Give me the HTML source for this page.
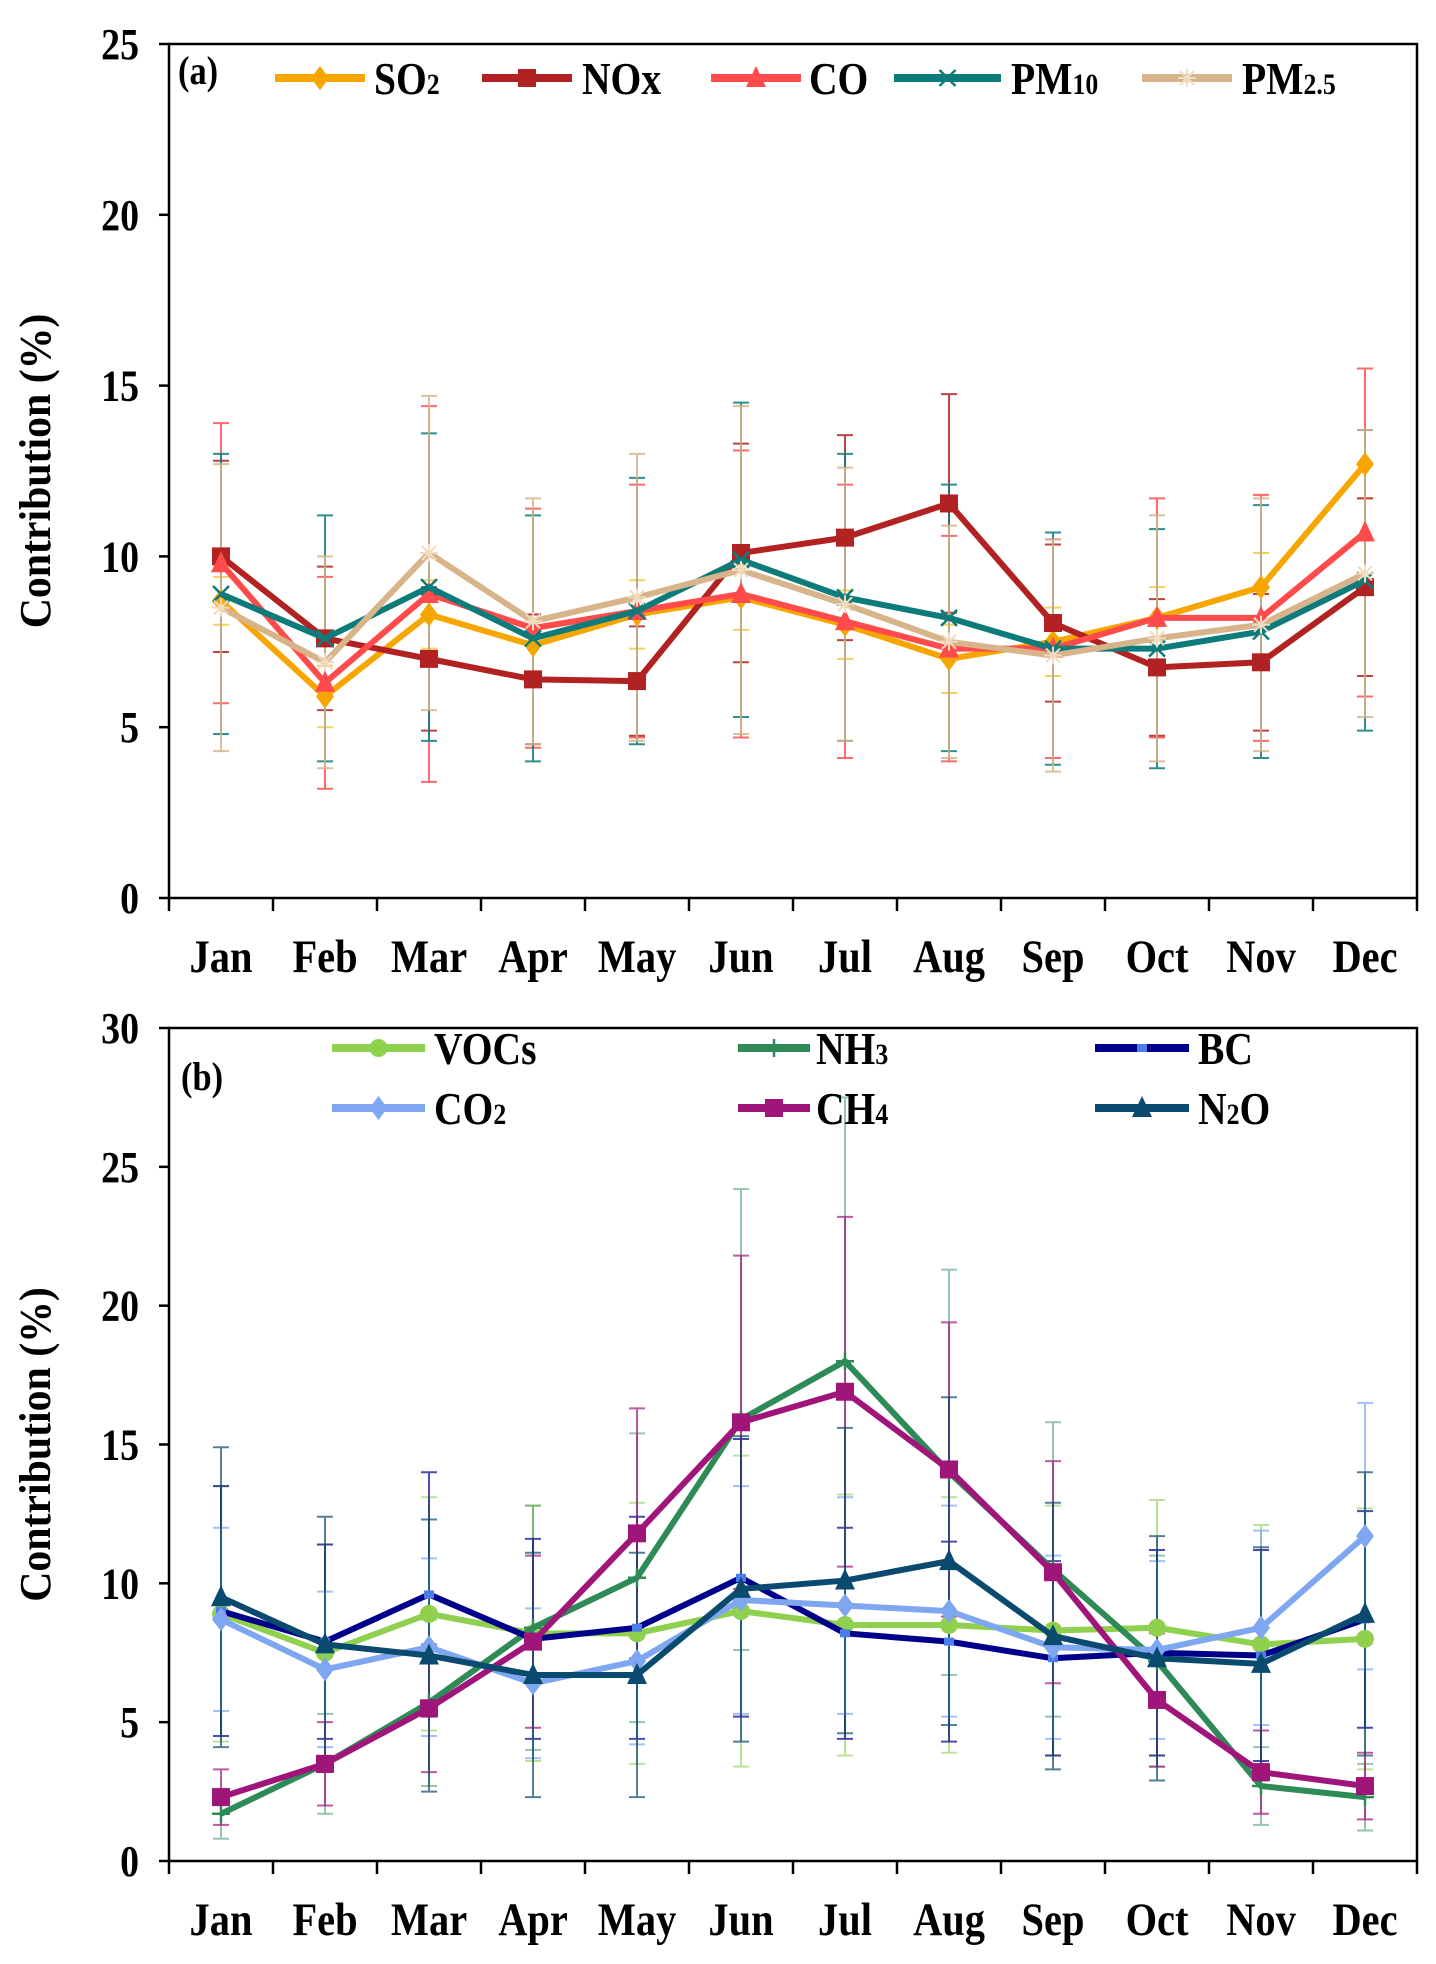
<!DOCTYPE html>
<html><head><meta charset="utf-8"><style>
html,body{margin:0;padding:0;background:#fff;}
svg{display:block;font-family:"Liberation Serif",serif;font-weight:bold;}
</style></head><body>
<svg id="chart" width="1436" height="1964" viewBox="0 0 1436 1964" xmlns="http://www.w3.org/2000/svg">
<rect width="1436" height="1964" fill="#fff"/>
</svg>
<script>
const months=["Jan","Feb","Mar","Apr","May","Jun","Jul","Aug","Sep","Oct","Nov","Dec"];
const ticksA=[0,5,10,15,20,25];
const ticksB=[0,5,10,15,20,25,30];
const so2=[8.7,5.9,8.3,7.4,8.3,8.8,8.0,7.0,7.5,8.2,9.1,12.7];
const so2Err=[0.7,0.9,1.0,0.9,1.0,0.95,1.0,1.0,1.0,0.9,1.0,1.0];
const nox=[10.0,7.6,7.0,6.4,6.35,10.1,10.55,11.55,8.05,6.75,6.9,9.1];
const noxErr=[2.8,2.1,2.1,1.9,1.6,3.2,3.0,3.2,2.3,2.0,2.0,2.6];
const co=[9.8,6.3,8.9,7.9,8.4,8.9,8.1,7.3,7.3,8.2,8.2,10.7];
const coErr=[4.1,3.1,5.5,3.5,3.7,4.2,4.0,3.3,3.2,3.5,3.6,4.8];
const pm10=[8.9,7.6,9.1,7.6,8.4,9.9,8.8,8.2,7.3,7.3,7.8,9.3];
const pm10Err=[4.1,3.6,4.5,3.6,3.9,4.6,4.2,3.9,3.4,3.5,3.7,4.4];
const pm25=[8.5,6.9,10.1,8.1,8.8,9.6,8.6,7.5,7.1,7.6,8.0,9.5];
const pm25Err=[4.2,3.1,4.6,3.6,4.2,4.8,4.0,3.4,3.4,3.6,3.7,4.2];
const vocs=[8.9,7.5,8.9,8.2,8.2,9.0,8.5,8.5,8.3,8.4,7.8,8.0];
const vocsErr=[4.6,3.9,4.2,4.6,4.7,5.6,4.7,4.6,4.5,4.6,4.3,4.7];
const nh3=[1.7,3.5,5.7,8.4,10.2,15.9,18.0,14.0,10.5,7.2,2.7,2.3];
const nh3Err=[0.9,1.8,3.0,4.4,5.2,8.3,9.5,7.3,5.3,3.8,1.4,1.2];
const bc=[9.0,7.9,9.6,8.0,8.4,10.2,8.2,7.9,7.3,7.5,7.4,8.7];
const bcErr=[4.5,3.5,4.4,3.6,4.0,5.0,3.8,3.6,3.5,3.7,3.8,3.9];
const co2=[8.7,6.9,7.7,6.4,7.2,9.4,9.2,9.0,7.7,7.6,8.4,11.7];
const co2Err=[3.3,2.8,3.2,2.7,3.0,4.1,3.9,3.8,3.3,3.2,3.5,4.8];
const ch4=[2.3,3.5,5.5,7.9,11.8,15.8,16.9,14.1,10.4,5.8,3.2,2.7];
const ch4Err=[1.0,1.5,2.3,3.1,4.5,6.0,6.3,5.3,4.0,2.4,1.5,1.2];
const n2o=[9.5,7.8,7.4,6.7,6.7,9.8,10.1,10.8,8.1,7.3,7.1,8.9];
const n2oErr=[5.4,4.6,4.9,4.4,4.4,5.5,5.5,5.9,4.8,4.4,4.2,5.1];

const NS="http://www.w3.org/2000/svg";
const svg=document.getElementById('chart');
function el(tag,attrs,parent){const e=document.createElementNS(NS,tag);for(const k in attrs)e.setAttribute(k,attrs[k]);(parent||svg).appendChild(e);return e;}

function marker(g,type,x,y,color){
  let m;
  const s=9;
  if(type==='diamond') m=el('polygon',{points:`${x},${y-s-3} ${x+s},${y} ${x},${y+s+3} ${x-s},${y}`,fill:color},g);
  else if(type==='square') m=el('rect',{x:x-s,y:y-s,width:2*s,height:2*s,fill:color},g);
  else if(type==='triangle') m=el('polygon',{points:`${x},${y-s-3} ${x+s+1},${y+s} ${x-s-1},${y+s}`,fill:color},g);
  else if(type==='circle') m=el('circle',{cx:x,cy:y,r:s,fill:color},g);
  else if(type==='smallsquare') m=el('rect',{x:x-5,y:y-4,width:10,height:8,fill:'#4a7ee8'},g);
  else if(type==='x'){m=el('path',{d:`M${x-8} ${y-8}L${x+8} ${y+8}M${x-8} ${y+8}L${x+8} ${y-8}`,stroke:color,'stroke-width':2.5,fill:'none'},g);}
  else if(type==='star'){m=el('path',{d:`M${x-9} ${y}L${x+9} ${y}M${x} ${y-9}L${x} ${y+9}M${x-7} ${y-7}L${x+7} ${y+7}M${x-7} ${y+7}L${x+7} ${y-7}`,stroke:'#f2dcc0','stroke-width':2,fill:'none'},g);}
  else if(type==='plus'){m=el('path',{d:`M${x-9} ${y}L${x+9} ${y}M${x} ${y-9}L${x} ${y+9}`,stroke:color,'stroke-width':2.5,fill:'none'},g);}
  
  
  return m;
}
function stext(g,x,y,size,anchor,str){
  const t=el('text',{transform:`translate(${x},${y}) scale(0.86,1)`,'text-anchor':anchor,'font-size':size},g);
  t.innerHTML=str;
  return t;
}

function panel(cfg){
  const {top,zero,max,ticks,series,label,labelPos,legendRows}=cfg;
  const left=169,right=1417,cw=104;
  const ys=v=>zero-(v/max)*(zero-top);
  const xs=i=>left+cw*(i+0.5);
  const g=el('g',{});
  
  
  const fr=el('rect',{x:left,y:top,width:right-left,height:zero-top,fill:'none',stroke:'#000','stroke-width':2.5},g);
  
  
  ticks.forEach(t=>{
    const y=ys(t);
    const tk=el('line',{x1:left-10,x2:left,y1:y,y2:y,stroke:'#000','stroke-width':2.5},g);
    
    
    const tx=stext(g,left-30,y+15,44,'end',String(t));
    
    
  });
  for(let i=0;i<=12;i++){
    const x=left+cw*i;
    const tk=el('line',{x1:x,x2:x,y1:zero,y2:zero+13,stroke:'#000','stroke-width':2.5},g);
    
    
  }
  months.forEach((m,i)=>{
    const tx=stext(g,xs(i),zero+74,47,'middle',m);
    
    
  });
  const cy=(top+zero)/2;
  const yt=el('text',{x:0,y:0,transform:`translate(50,${cy}) rotate(-90) scale(0.95,1)`,'text-anchor':'middle','font-size':44},g);
  yt.textContent='Contribution (%)';
  
  
  const pl=stext(g,labelPos[0],labelPos[1],40,'start',label);
  
  
  series.forEach(s=>{
    const eg=el('g',{stroke:s.errColor||s.color,'stroke-width':2,opacity:s.errOpacity||0.85},g);
    
    
    s.vals.forEach((v,i)=>{
      const x=xs(i),y1=ys(v+s.err[i]),y2=ys(Math.max(0,v-s.err[i]));
      const p=el('path',{d:`M${x} ${y1}L${x} ${y2}M${x-8} ${y1}L${x+8} ${y1}M${x-8} ${y2}L${x+8} ${y2}`,fill:'none'},eg);
      
      
    });
  });
  series.forEach(s=>{
    const sg=el('g',{},g);
    
    
    const pts=s.vals.map((v,i)=>xs(i)+','+ys(v)).join(' ');
    const pl=el('polyline',{points:pts,fill:'none',stroke:s.color,'stroke-width':s.width||6,'stroke-linejoin':'round'},sg);
    
    
    s.vals.forEach((v,i)=>marker(sg,s.marker,xs(i),ys(v),s.color));
  });
  legendRows.forEach(L=>{
    const s=series.find(q=>q.key===L.key);
    const lg=el('g',{},g);
    
    
    const ln=el('line',{x1:L.x1,x2:L.x2,y1:L.y,y2:L.y,stroke:s.color,'stroke-width':8},lg);
    
    
    marker(lg,s.marker,(L.x1+L.x2)/2,L.y,s.color);
    const t=stext(lg,L.tx,L.y+16,46,'start',L.html);
    
    
  });
}
const sub=(a,b)=>`${a}<tspan font-size="30">${b}</tspan>`;
panel({name:'panel-a',top:44,zero:898,max:25,ticks:ticksA,label:'(a)',labelPos:[178,84],
  series:[
    {key:'so2',vals:so2,err:so2Err,color:'#f7a600',errColor:'#f5c842',marker:'diamond'},
    {key:'nox',vals:nox,err:noxErr,color:'#b22222',marker:'square'},
    {key:'co',vals:co,err:coErr,color:'#ff4b4b',marker:'triangle',errColor:'#ff5050'},
    {key:'pm10',vals:pm10,err:pm10Err,color:'#0e7b7b',marker:'x'},
    {key:'pm25',vals:pm25,err:pm25Err,color:'#d8b48a',marker:'star'}],
  legendRows:[
    {key:'so2',x1:275,x2:365,y:78,tx:374,html:sub('SO','2')},
    {key:'nox',x1:482,x2:572,y:78,tx:582,html:'NOx'},
    {key:'co',x1:711,x2:801,y:78,tx:809,html:'CO'},
    {key:'pm10',x1:894,x2:1001,y:78,tx:1011,html:sub('PM','10')},
    {key:'pm25',x1:1142,x2:1232,y:78,tx:1242,html:sub('PM','2.5')}]
});
panel({name:'panel-b',top:1028,zero:1861,max:30,ticks:ticksB,label:'(b)',labelPos:[181,1090],
  series:[
    {key:'vocs',vals:vocs,err:vocsErr,color:'#8fd14f',marker:'circle',errOpacity:0.6},
    {key:'nh3',vals:nh3,err:nh3Err,color:'#2e8b57',marker:'plus',errOpacity:0.5},
    {key:'bc',vals:bc,err:bcErr,color:'#00008b',marker:'smallsquare',errOpacity:0.7},
    {key:'co2',vals:co2,err:co2Err,color:'#7fa6f0',marker:'diamond',errOpacity:0.7},
    {key:'ch4',vals:ch4,err:ch4Err,color:'#a0157a',marker:'square',errOpacity:0.7},
    {key:'n2o',vals:n2o,err:n2oErr,color:'#0b4a6f',marker:'triangle',errOpacity:0.7}],
  legendRows:[
    {key:'vocs',x1:332,x2:425,y:1048,tx:434,html:'VOCs'},
    {key:'nh3',x1:738,x2:810,y:1048,tx:816,html:sub('NH','3')},
    {key:'bc',x1:1095,x2:1189,y:1048,tx:1198,html:'BC'},
    {key:'co2',x1:332,x2:425,y:1108,tx:434,html:sub('CO','2')},
    {key:'ch4',x1:738,x2:810,y:1108,tx:816,html:sub('CH','4')},
    {key:'n2o',x1:1095,x2:1189,y:1108,tx:1198,html:'N<tspan font-size="30">2</tspan>O'}]
});
</script>
</body></html>
